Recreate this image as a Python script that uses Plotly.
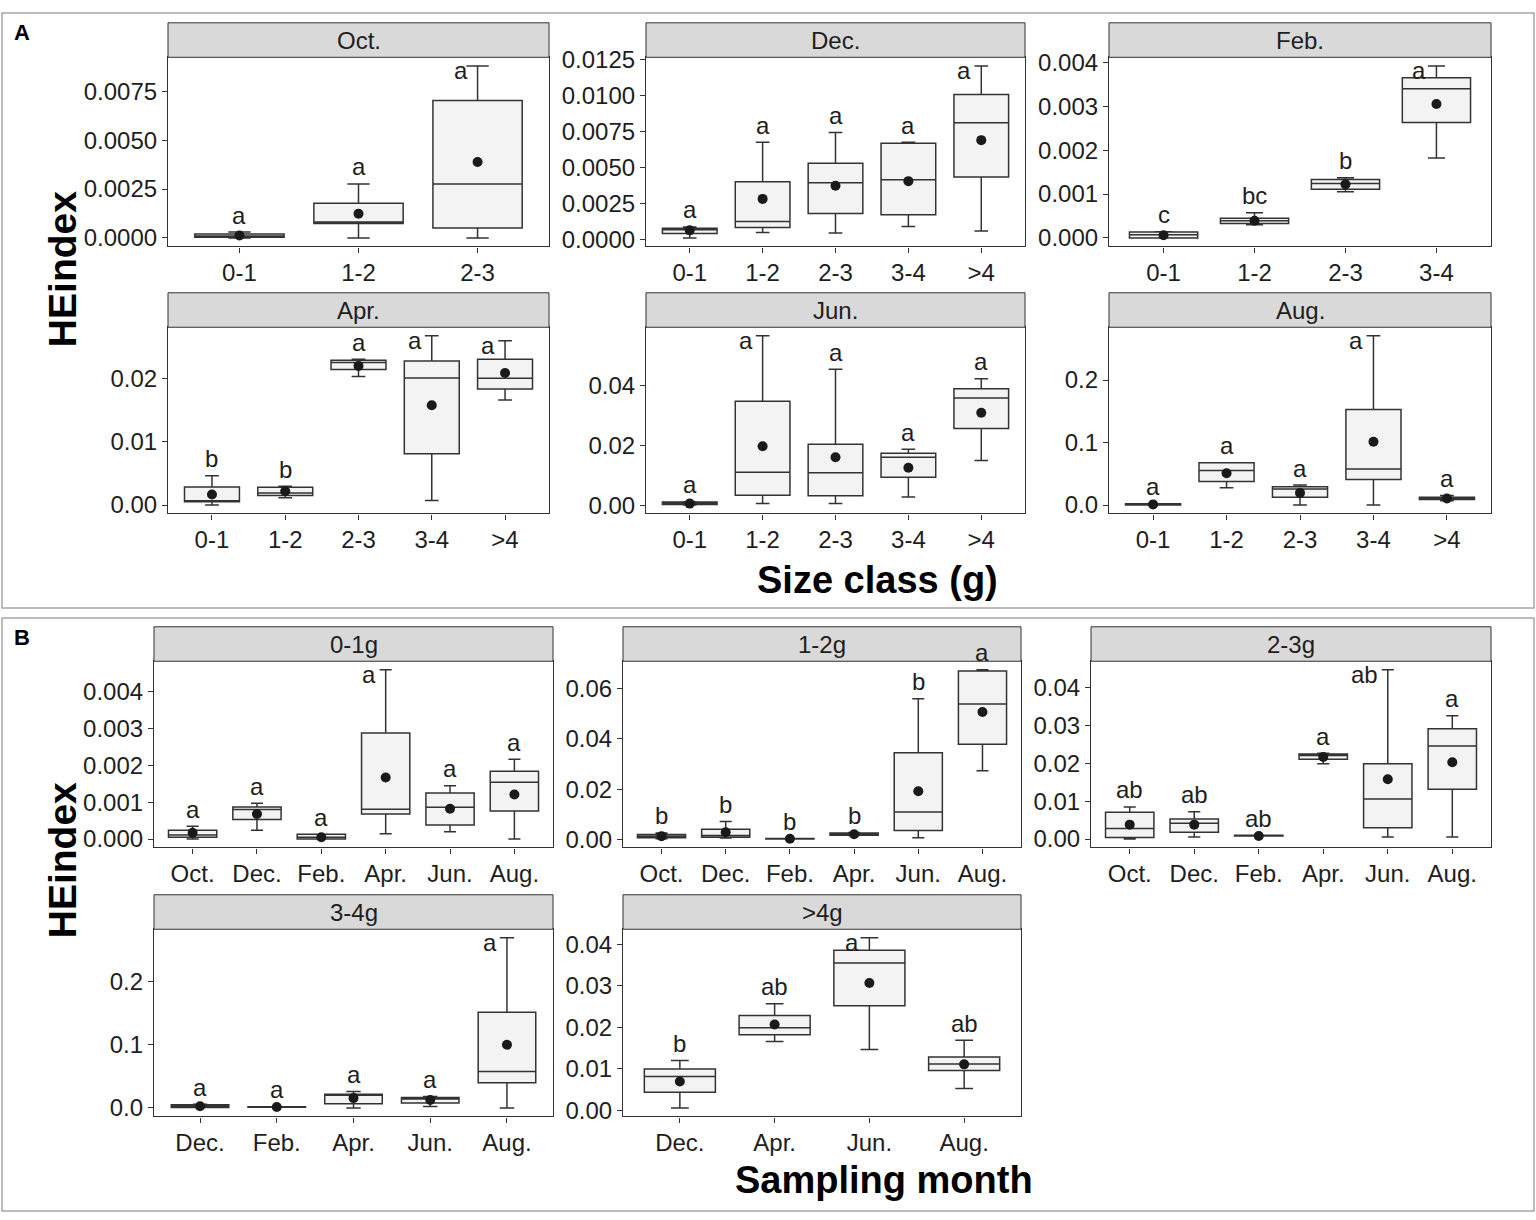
import plotly.graph_objects as go

W, H = 1536, 1220
FONT = "Liberation Sans, Arial, sans-serif"

# ---------------------------------------------------------------------------
# Panel A: one facet per sampling month, size classes on x
# ---------------------------------------------------------------------------
a_facets = ["Oct.", "Dec.", "Feb.", "Apr.", "Jun.", "Aug."]
a_classes = [
    ["0-1", "1-2", "2-3"],
    ["0-1", "1-2", "2-3", "3-4", ">4"],
    ["0-1", "1-2", "2-3", "3-4"],
    ["0-1", "1-2", "2-3", "3-4", ">4"],
    ["0-1", "1-2", "2-3", "3-4", ">4"],
    ["0-1", "1-2", "2-3", "3-4", ">4"],
]
a_low = [
    [0.0, 0.0, 0.0],
    [0.00014, 0.00052, 0.00048, 0.00093, 0.00061],
    [0.0, 0.0003, 0.00105, 0.00182],
    [0.0, 0.00114, 0.0203, 0.00072, 0.01659],
    [0.0003, 0.00076, 0.00076, 0.00294, 0.01504],
    [0.0, 0.0278, 0.0, 0.0, 0.0068],
]
a_q1 = [
    [0.00003, 0.00073, 0.0005],
    [0.00045, 0.00086, 0.00182, 0.00175, 0.00436],
    [0.0, 0.00033, 0.00111, 0.00263],
    [0.00052, 0.0015, 0.0214, 0.00811, 0.0183],
    [0.00044, 0.00349, 0.00338, 0.00948, 0.02561],
    [0.0, 0.0378, 0.0126, 0.041, 0.0089],
]
a_med = [
    [0.0001, 0.00081, 0.00276],
    [0.0007, 0.00127, 0.00395, 0.00416, 0.00811],
    [0.00007, 0.00039, 0.00124, 0.0034],
    [0.00067, 0.0019, 0.0225, 0.02005, 0.02],
    [0.0009, 0.01112, 0.01101, 0.01613, 0.03575],
    [0.001, 0.0551, 0.0257, 0.0577, 0.011],
]
a_q3 = [
    [0.0002, 0.00177, 0.00703],
    [0.0008, 0.00402, 0.0053, 0.0067, 0.01007],
    [0.000135, 0.00045, 0.00133, 0.00365],
    [0.00284, 0.00279, 0.02284, 0.02274, 0.023],
    [0.0013, 0.03466, 0.02038, 0.01744, 0.0388],
    [0.002, 0.0677, 0.0294, 0.1528, 0.0126],
]
a_high = [
    [0.0003, 0.00276, 0.0088],
    [0.0009, 0.00677, 0.00743, 0.00677, 0.01205],
    [0.00014, 0.00057, 0.00137, 0.00392],
    [0.0046, 0.00295, 0.023, 0.02672, 0.02594],
    [0.0014, 0.05635, 0.04523, 0.01875, 0.04207],
    [0.002, 0.0677, 0.032, 0.2709, 0.0152],
]
a_mean = [
    [0.00012, 0.00123, 0.00388],
    [0.00066, 0.00284, 0.00375, 0.00407, 0.00691],
    [0.00006, 0.00039, 0.00122, 0.00305],
    [0.00165, 0.00217, 0.02196, 0.01576, 0.02083],
    [0.00076, 0.01973, 0.01613, 0.01264, 0.03084],
    [0.001, 0.0509, 0.0194, 0.1013, 0.0105],
]
a_letters = [
    ["a", "a", "a"],
    ["a", "a", "a", "a", "a"],
    ["c", "bc", "b", "a"],
    ["b", "b", "a", "a", "a"],
    ["a", "a", "a", "a", "a"],
    ["a", "a", "a", "a", "a"],
]
a_tickstep = [0.0025, 0.0025, 0.001, 0.01, 0.02, 0.1]

# ---------------------------------------------------------------------------
# Panel B: one facet per size class, sampling months on x
# ---------------------------------------------------------------------------
b_facets = ["0-1g", "1-2g", "2-3g", "3-4g", ">4g"]
b_months = [
    ["Oct.", "Dec.", "Feb.", "Apr.", "Jun.", "Aug."],
    ["Oct.", "Dec.", "Feb.", "Apr.", "Jun.", "Aug."],
    ["Oct.", "Dec.", "Feb.", "Apr.", "Jun.", "Aug."],
    ["Dec.", "Feb.", "Apr.", "Jun.", "Aug."],
    ["Dec.", "Apr.", "Jun.", "Aug."],
]
b_low = [
    [0.0, 0.00024, 0.0, 0.00014, 0.0002, 0.0],
    [0.0004, 0.0007, 0.0003, 0.0017, 0.0008, 0.0273],
    [0.0, 0.0005, 0.0008, 0.0199, 0.0005, 0.0005],
    [0.0005, 0.001, 0.0, 0.0021, 0.0],
    [0.0006, 0.0166, 0.0147, 0.0053],
]
b_q1 = [
    [0.00005, 0.00053, 0.0, 0.00068, 0.00038, 0.00076],
    [0.0008, 0.001, 0.0003, 0.0018, 0.0037, 0.0378],
    [0.0004, 0.0018, 0.0008, 0.0211, 0.003, 0.0132],
    [0.0005, 0.001, 0.0067, 0.0078, 0.0398],
    [0.00435, 0.01826, 0.0252, 0.0096],
]
b_med = [
    [0.00011, 0.0008, 0.00005, 0.00081, 0.00086, 0.00154],
    [0.0014, 0.0017, 0.0004, 0.0023, 0.011, 0.0537],
    [0.0028, 0.0042, 0.0009, 0.0221, 0.0106, 0.0246],
    [0.0026, 0.0016, 0.0207, 0.014, 0.0574],
    [0.0082, 0.0199, 0.0355, 0.0112],
]
b_q3 = [
    [0.00024, 0.00087, 0.00013, 0.00288, 0.00125, 0.00184],
    [0.0021, 0.0042, 0.0005, 0.0027, 0.0344, 0.0668],
    [0.0071, 0.0053, 0.001, 0.0225, 0.0199, 0.0292],
    [0.0052, 0.002, 0.0217, 0.0165, 0.1509],
    [0.01, 0.02285, 0.0386, 0.0129],
]
b_high = [
    [0.00035, 0.00097, 0.00013, 0.0046, 0.00145, 0.00217],
    [0.0027, 0.0072, 0.0005, 0.0029, 0.0558, 0.0673],
    [0.0085, 0.0072, 0.001, 0.0227, 0.0448, 0.0326],
    [0.0057, 0.002, 0.0258, 0.0181, 0.2687],
    [0.012, 0.0257, 0.0416, 0.0169],
]
b_mean = [
    [0.00017, 0.00068, 0.00005, 0.00167, 0.00082, 0.00121],
    [0.0014, 0.003, 0.0004, 0.0022, 0.0192, 0.0506],
    [0.0038, 0.0038, 0.0008, 0.0217, 0.0158, 0.0203],
    [0.0026, 0.0016, 0.0155, 0.0124, 0.0997],
    [0.00696, 0.0207, 0.0307, 0.0111],
]
b_letters = [
    ["a", "a", "a", "a", "a", "a"],
    ["b", "b", "b", "b", "b", "a"],
    ["ab", "ab", "ab", "a", "ab", "a"],
    ["a", "a", "a", "a", "a"],
    ["b", "ab", "a", "ab"],
]
b_tickstep = [0.001, 0.02, 0.01, 0.1, 0.01]

# letters that sit beside the top whisker instead of above it
letter_beside = {
    ("Oct.", "2-3"), ("Dec.", ">4"), ("Feb.", "3-4"), ("Apr.", "3-4"),
    ("Apr.", ">4"), ("Jun.", "1-2"), ("Aug.", "3-4"),
    ("0-1g", "Apr."), ("2-3g", "Jun."), ("3-4g", "Aug."), (">4g", "Jun."),
}

# plotting areas in pixels: left, right, top, bottom
a_frames = [(168, 549, 47, 239), (646, 1025, 47, 239), (1109, 1491, 47, 239),
            (168, 549, 321, 510), (646, 1025, 321, 510), (1109, 1491, 321, 510)]
b_frames = [(154, 553, 660, 849), (623, 1021, 660, 849), (1091, 1491, 660, 849),
            (154, 553, 932, 1122), (623, 1021, 932, 1122)]
STRIP_H = 35
TXT = 24


def fx(px):
    return px / W


def fy(py):
    return 1 - py / H


fig = go.Figure()
shapes = []
annotations = []
layout_axes = {}


def add_facet(idx, title, cats, lo, q1, med, q3, hi, mean, letters, step, frame):
    sfx = "" if idx == 1 else str(idx)
    xa, ya = "x" + sfx, "y" + sfx
    left, right, top, bottom = frame

    fig.add_trace(go.Box(
        x=cats, q1=q1, median=med, q3=q3, lowerfence=lo, upperfence=hi,
        xaxis=xa, yaxis=ya, width=0.75, whiskerwidth=0.25,
        fillcolor="#f3f3f3", line=dict(color="#333333", width=1.5),
        boxpoints=False, showlegend=False,
    ))
    fig.add_trace(go.Scatter(
        x=cats, y=mean, mode="markers", xaxis=xa, yaxis=ya,
        marker=dict(size=10, color="#1a1a1a"), showlegend=False,
    ))

    ymin, ymax = min(lo), max(hi)
    pad = 0.05 * (ymax - ymin)
    decimals = len(f"{step:g}".split(".")[1])

    layout_axes["xaxis" + sfx] = dict(
        domain=[fx(left), fx(right)], anchor=ya, type="category",
        categoryorder="array", categoryarray=cats,
        range=[-0.6, len(cats) - 0.4],
        showline=True, mirror=True, linecolor="#333333", linewidth=1.2,
        ticks="outside", ticklen=5, tickcolor="#333333",
        tickfont=dict(size=TXT, color="#1e1e1e", family=FONT),
        showgrid=False, zeroline=False,
    )
    layout_axes["yaxis" + sfx] = dict(
        domain=[fy(bottom), fy(top)], anchor=xa,
        range=[ymin - pad, ymax + pad], tick0=0, dtick=step,
        tickformat=f".{decimals}f",
        showline=True, mirror=True, linecolor="#333333", linewidth=1.2,
        ticks="outside", ticklen=5, tickcolor="#333333",
        tickfont=dict(size=TXT, color="#1e1e1e", family=FONT),
        showgrid=False, zeroline=False,
    )

    # facet strip
    shapes.append(dict(
        type="rect", xref="paper", yref="paper",
        x0=fx(left), x1=fx(right), y0=fy(top), y1=fy(top - STRIP_H),
        fillcolor="#d9d9d9", line=dict(color="#333333", width=1),
    ))
    annotations.append(dict(
        xref="paper", yref="paper", x=fx((left + right) / 2),
        y=fy(top - STRIP_H / 2), text=title, showarrow=False,
        font=dict(size=TXT, color="#1e1e1e", family=FONT),
        xanchor="center", yanchor="middle",
    ))

    # significance letters
    for c, h, t in zip(cats, hi, letters):
        if (title, c) in letter_beside:
            annotations.append(dict(
                xref=xa, yref=ya, x=c, y=h, text=t, showarrow=False,
                xanchor="right", yanchor="middle", xshift=-8, yshift=-5,
                font=dict(size=TXT, color="#1e1e1e", family=FONT),
            ))
        else:
            annotations.append(dict(
                xref=xa, yref=ya, x=c, y=h, text=t, showarrow=False,
                xanchor="center", yanchor="middle", yshift=17,
                font=dict(size=TXT, color="#1e1e1e", family=FONT),
            ))


idx = 1
for i, name in enumerate(a_facets):
    add_facet(idx, name, a_classes[i], a_low[i], a_q1[i], a_med[i], a_q3[i],
              a_high[i], a_mean[i], a_letters[i], a_tickstep[i], a_frames[i])
    idx += 1
for i, name in enumerate(b_facets):
    add_facet(idx, name, b_months[i], b_low[i], b_q1[i], b_med[i], b_q3[i],
              b_high[i], b_mean[i], b_letters[i], b_tickstep[i], b_frames[i])
    idx += 1

# outer panel frames
for y0, y1 in [(2, 606), (616, 1218)]:
    shapes.append(dict(
        type="rect", xref="paper", yref="paper", layer="below",
        x0=fx(2), x1=fx(1534), y0=fy(y1), y1=fy(y0),
        line=dict(color="#a6a6a6", width=1.5), fillcolor="rgba(0,0,0,0)",
    ))

# panel tags and axis titles
for tag, py in [("A", 22), ("B", 636)]:
    annotations.append(dict(
        xref="paper", yref="paper", x=fx(22), y=fy(py), text=f"<b>{tag}</b>",
        xanchor="center", yanchor="middle", showarrow=False,
        font=dict(size=22, color="#000000", family=FONT),
    ))
for py in [262, 862]:
    annotations.append(dict(
        xref="paper", yref="paper", x=fx(62), y=fy(py), text="<b>HEindex</b>",
        xanchor="center", yanchor="middle", textangle=-90, showarrow=False,
        font=dict(size=39, color="#000000", family=FONT),
    ))
annotations.append(dict(
    xref="paper", yref="paper", x=fx(877), y=fy(578), text="<b>Size class (g)</b>",
    xanchor="center", yanchor="middle", showarrow=False,
    font=dict(size=38, color="#000000", family=FONT),
))
annotations.append(dict(
    xref="paper", yref="paper", x=fx(884), y=fy(1186), text="<b>Sampling month</b>",
    xanchor="center", yanchor="middle", showarrow=False,
    font=dict(size=38, color="#000000", family=FONT),
))

fig.update_layout(
    width=W, height=H,
    margin=dict(l=0, r=0, t=0, b=0),
    paper_bgcolor="white", plot_bgcolor="white",
    font=dict(family=FONT),
    showlegend=False,
    shapes=shapes,
    annotations=annotations,
    **layout_axes,
)

# drop the page's default body margin so the figure sits at the window origin
fig.write_html(
    "out.html",
    config={"displayModeBar": False},
    post_script="document.body.style.margin='0px';",
)
